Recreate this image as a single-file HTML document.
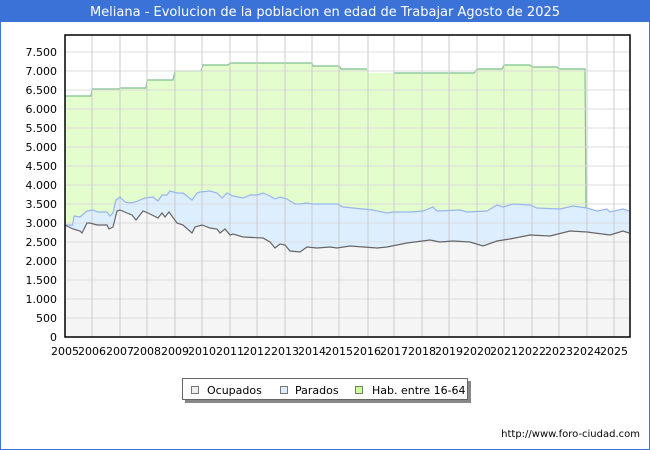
<!DOCTYPE html>
<html><head><meta charset="utf-8"><style>
html,body{margin:0;padding:0;background:#fff}
svg{display:block;font-family:"DejaVu Sans","Liberation Sans",sans-serif}
</style></head><body>
<svg width="650" height="450" viewBox="0 0 650 450" xmlns="http://www.w3.org/2000/svg">
<rect x="0.5" y="0.5" width="649" height="449" fill="#fff" stroke="#3a72d8"/>
<rect x="0" y="0" width="650" height="22" fill="#3a72d8"/>
<text x="325" y="16" text-anchor="middle" font-size="13" fill="#fff">Meliana - Evolucion de la poblacion en edad de Trabajar Agosto de 2025</text>

<!-- gridlines -->
<g stroke="#cccccc" stroke-width="1">
<line x1="65" y1="52" x2="630" y2="52"/><line x1="65" y1="71" x2="630" y2="71"/><line x1="65" y1="90" x2="630" y2="90"/><line x1="65" y1="109" x2="630" y2="109"/><line x1="65" y1="128" x2="630" y2="128"/><line x1="65" y1="147" x2="630" y2="147"/><line x1="65" y1="166" x2="630" y2="166"/><line x1="65" y1="185" x2="630" y2="185"/><line x1="65" y1="204" x2="630" y2="204"/><line x1="65" y1="223" x2="630" y2="223"/><line x1="65" y1="242" x2="630" y2="242"/><line x1="65" y1="261" x2="630" y2="261"/><line x1="65" y1="280" x2="630" y2="280"/><line x1="65" y1="299" x2="630" y2="299"/><line x1="65" y1="318" x2="630" y2="318"/>
</g>

<!-- hab area -->
<path d="M65,337 L65,96 L91,96 L92,89 L119,89 L120,88 L146,88 L147,80 L173,80 L175,71 L201,71 L203,65 L228,65 L230,63 L312,63 L313,66 L339,66 L341,69 L367,69 L368,73 L474,73 L477,69 L502,69 L504,65 L530,65 L532,67 L557,67 L559,69 L585,69 L586,208 L586,337 Z" fill="#e4fdcc"/>
<path d="M65,96 L91,96 L92,89 L119,89 L120,88 L146,88 L147,80 L173,80 L175,71 L201,71 L203,65 L228,65 L230,63 L312,63 L313,66 L339,66 L341,69 L367,69 M394,73 L474,73 L477,69 L502,69 L504,65 L530,65 L532,67 L557,67 L559,69 L585,69 L586,208" fill="none" stroke="#7fbf90" stroke-width="1.2"/>

<!-- parados area -->
<path id="par" d="M65,225 L72.7,225 L74,216 L80,217 L87,211 L93,210 L98,212 L107,212 L110,216 L113,213 L116,200 L120,197 L125,202 L130,203 L135,202 L145,198 L153,197 L158,201 L162,195 L167,195 L170,191 L177,193 L183,193 L192,200 L197,193 L200,192 L210,191 L217,193 L222,198 L227,193 L233,196 L243,198 L250,195 L257,195 L263,193 L270,196 L275,199 L280,197 L287,199 L295,204 L300,204 L307,203 L313,204 L337,204 L343,207 L373,210 L387,213 L393,212 L410,212 L423,211 L433,207 L437,211 L460,210 L467,212 L487,211 L497,205 L503,207 L513,204 L530,205 L537,208 L560,209 L573,206 L587,208 L597,211 L607,209 L610,212 L623,209 L629,211" fill="none"/>
<path d="M65,225 L72.7,225 L74,216 L80,217 L87,211 L93,210 L98,212 L107,212 L110,216 L113,213 L116,200 L120,197 L125,202 L130,203 L135,202 L145,198 L153,197 L158,201 L162,195 L167,195 L170,191 L177,193 L183,193 L192,200 L197,193 L200,192 L210,191 L217,193 L222,198 L227,193 L233,196 L243,198 L250,195 L257,195 L263,193 L270,196 L275,199 L280,197 L287,199 L295,204 L300,204 L307,203 L313,204 L337,204 L343,207 L373,210 L387,213 L393,212 L410,212 L423,211 L433,207 L437,211 L460,210 L467,212 L487,211 L497,205 L503,207 L513,204 L530,205 L537,208 L560,209 L573,206 L587,208 L597,211 L607,209 L610,212 L623,209 L629,211 L629,337 L65,337 Z" fill="#ddeeff"/>

<!-- ocupados area -->
<path d="M65,225 L73,229 L80,231 L82,233 L87,223 L90,223 L97,225 L107,225 L109,229 L113,227 L117,211 L120,210 L127,213 L132,215 L136,220 L143,211 L148,213 L158,218 L162,213 L165,217 L169,212 L177,223 L183,225 L192,233 L195,227 L202,225 L210,228 L217,229 L220,233 L225,229 L230,235 L233,234 L243,237 L263,238 L270,242 L275,248 L280,244 L285,245 L290,251 L300,252 L307,247 L317,248 L330,247 L337,248 L350,246 L377,248 L387,247 L407,243 L430,240 L440,242 L453,241 L470,242 L483,246 L497,241 L510,239 L530,235 L550,236 L570,231 L587,232 L610,235 L623,231 L629,233 L629,337 L65,337 Z" fill="#f5f5f5"/>

<!-- lower gridlines over fills -->
<g stroke="#dddddd" stroke-width="1">
<line x1="65" y1="242" x2="630" y2="242"/><line x1="65" y1="261" x2="630" y2="261"/><line x1="65" y1="280" x2="630" y2="280"/><line x1="65" y1="299" x2="630" y2="299"/><line x1="65" y1="318" x2="630" y2="318"/>
<line x1="65" y1="223" x2="630" y2="223"/><line x1="65" y1="204" x2="630" y2="204"/><line x1="65" y1="185" x2="630" y2="185"/><line x1="65" y1="166" x2="630" y2="166"/><line x1="65" y1="147" x2="630" y2="147"/><line x1="65" y1="128" x2="630" y2="128"/><line x1="65" y1="109" x2="630" y2="109"/><line x1="65" y1="90" x2="630" y2="90"/><line x1="65" y1="71" x2="630" y2="71"/><line x1="65" y1="52" x2="630" y2="52"/>
</g>
<g stroke="#cccccc" stroke-width="1">
<line x1="92" y1="35" x2="92" y2="337"/><line x1="120" y1="35" x2="120" y2="337"/><line x1="147" y1="35" x2="147" y2="337"/><line x1="175" y1="35" x2="175" y2="337"/><line x1="202" y1="35" x2="202" y2="337"/><line x1="230" y1="35" x2="230" y2="337"/><line x1="257" y1="35" x2="257" y2="337"/><line x1="285" y1="35" x2="285" y2="337"/><line x1="312" y1="35" x2="312" y2="337"/><line x1="339" y1="35" x2="339" y2="337"/><line x1="368" y1="35" x2="368" y2="337"/><line x1="394" y1="35" x2="394" y2="337"/><line x1="422" y1="35" x2="422" y2="337"/><line x1="449" y1="35" x2="449" y2="337"/><line x1="477" y1="35" x2="477" y2="337"/><line x1="504" y1="35" x2="504" y2="337"/><line x1="532" y1="35" x2="532" y2="337"/><line x1="559" y1="35" x2="559" y2="337"/><line x1="587" y1="35" x2="587" y2="337"/><line x1="614" y1="35" x2="614" y2="337"/>
</g>

<use href="#par" stroke="#99b5ee" stroke-width="1.2"/>
<path d="M65,225 L73,229 L80,231 L82,233 L87,223 L90,223 L97,225 L107,225 L109,229 L113,227 L117,211 L120,210 L127,213 L132,215 L136,220 L143,211 L148,213 L158,218 L162,213 L165,217 L169,212 L177,223 L183,225 L192,233 L195,227 L202,225 L210,228 L217,229 L220,233 L225,229 L230,235 L233,234 L243,237 L263,238 L270,242 L275,248 L280,244 L285,245 L290,251 L300,252 L307,247 L317,248 L330,247 L337,248 L350,246 L377,248 L387,247 L407,243 L430,240 L440,242 L453,241 L470,242 L483,246 L497,241 L510,239 L530,235 L550,236 L570,231 L587,232 L610,235 L623,231 L629,233" fill="none" stroke="#666" stroke-width="1.2"/>

<rect x="65" y="35" width="565" height="302" fill="none" stroke="#000" stroke-width="1.5"/>

<g font-size="11" fill="#000" text-anchor="end">
<text x="57" y="56">7.500</text><text x="57" y="75">7.000</text><text x="57" y="94">6.500</text><text x="57" y="113">6.000</text><text x="57" y="132">5.500</text><text x="57" y="151">5.000</text><text x="57" y="170">4.500</text><text x="57" y="189">4.000</text><text x="57" y="208">3.500</text><text x="57" y="227">3.000</text><text x="57" y="246">2.500</text><text x="57" y="265">2.000</text><text x="57" y="284">1.500</text><text x="57" y="303">1.000</text><text x="57" y="322">500</text><text x="57" y="341">0</text>
</g>
<g font-size="11" fill="#000" text-anchor="middle">
<text x="65" y="355">2005</text><text x="92" y="355">2006</text><text x="120" y="355">2007</text><text x="147" y="355">2008</text><text x="175" y="355">2009</text><text x="202" y="355">2010</text><text x="230" y="355">2011</text><text x="257" y="355">2012</text><text x="285" y="355">2013</text><text x="312" y="355">2014</text><text x="339" y="355">2015</text><text x="367" y="355">2016</text><text x="394" y="355">2017</text><text x="422" y="355">2018</text><text x="449" y="355">2019</text><text x="477" y="355">2020</text><text x="504" y="355">2021</text><text x="532" y="355">2022</text><text x="559" y="355">2023</text><text x="587" y="355">2024</text><text x="614" y="355">2025</text>
</g>

<!-- legend -->
<rect x="185" y="381" width="286" height="22" fill="#888"/>
<rect x="182.5" y="378.5" width="285" height="21" fill="#fff" stroke="#666"/>
<g font-size="11" fill="#000">
<rect x="191.5" y="386.5" width="7" height="7" fill="#eeeeee" stroke="#777"/>
<text x="207" y="394">Ocupados</text>
<rect x="280.5" y="386.5" width="7" height="7" fill="#ddeeff" stroke="#777"/>
<text x="295" y="394">Parados</text>
<rect x="355.5" y="386.5" width="7" height="7" fill="#ccff99" stroke="#777"/>
<text x="372" y="394">Hab. entre 16-64</text>
</g>
<text x="640" y="437" text-anchor="end" font-size="10" fill="#000">http://www.foro-ciudad.com</text>
</svg>
</body></html>
